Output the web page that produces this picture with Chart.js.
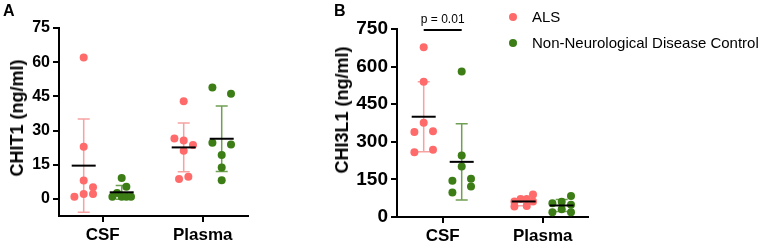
<!DOCTYPE html>
<html><head><meta charset="utf-8">
<script src="https://cdn.jsdelivr.net/npm/chart.js@4.4.1/dist/chart.umd.min.js"></script>
<style>
html,body{margin:0;padding:0;background:#fff}
body{width:765px;height:244px;position:relative;overflow:hidden;font-family:"Liberation Sans",Arial,sans-serif;color:#000}
canvas{position:absolute;top:0}
.panel{position:absolute;font-weight:bold;font-size:16px;line-height:18px}
.leg{position:absolute;font-size:15px;line-height:17px;white-space:nowrap}
.dot{position:absolute;width:8px;height:8px;border-radius:50%}
.ytitle{position:absolute;font-weight:bold;font-size:18px;line-height:20px;white-space:nowrap;
  transform:translate(-50%,-50%) rotate(-90deg)}
</style></head><body>
<canvas id="ca" width="330" height="244" style="left:0"></canvas>
<canvas id="cb" width="435" height="244" style="left:330px"></canvas>
<div class="panel" style="left:3px;top:2px">A</div>
<div class="panel" style="left:334px;top:2px">B</div>
<div class="ytitle" id="ta" style="left:17px;top:118px"></div>
<div class="ytitle" id="tb" style="left:342px;top:110px"></div>
<div class="dot" style="left:509px;top:13px;background:#ff6b6b"></div>
<div class="leg" id="lg0" style="left:532px;top:8px"></div>
<div class="dot" style="left:509px;top:39px;background:#3c7d16"></div>
<div class="leg" id="lg1" style="left:532px;top:34px"></div>
<script>
// ---------------- data ----------------
const categories = ['CSF', 'Plasma'];
const groupNames = ['ALS', 'Non-Neurological Disease Control'];
const yTitles = ['CHIT1 (ng/ml)', 'CHI3L1 (ng/ml)'];

const chit1AlsCsf     = [62, 22.9, 8.1, 5.1, 1.0, 2.2, 2.1];
const chit1CtrlCsf    = [9.2, 5.3, 2.6, 0.9, 0.9, 0.9, 0.9];
const chit1AlsPlasma  = [42.9, 26.5, 25.6, 23.7, 21.1, 8.7, 9.7];
const chit1CtrlPlasma = [48.9, 46.2, 24.6, 23.9, 19.3, 13.8, 8.2];
const chit1AlsMean  = [14.6, 22.6];
const chit1AlsSd    = [20.5, 10.7];
const chit1CtrlMean = [2.9, 26.4];
const chit1CtrlSd   = [3.0, 14.4];
const chit1Ticks = [0, 15, 30, 45, 60, 75];

const chi3l1AlsCsf     = [677, 540, 376, 339, 342, 258, 268];
const chi3l1CtrlCsf    = [580, 245, 201, 145, 153, 122, 98];
const chi3l1AlsPlasma  = [62, 42, 72, 72, 44, 90, 62];
const chi3l1CtrlPlasma = [55, 19, 61, 31, 84, 49, 19];
const chi3l1AlsMean  = [400, 62];
const chi3l1AlsSd    = [140, 17];
const chi3l1CtrlMean = [220, 46];
const chi3l1CtrlSd   = [152, 24];
const chi3l1Ticks = [0, 150, 300, 450, 600, 750];

const pValueText = 'p = 0.01';

// ---------------- layout (jitter columns, not data) ----------------
const jitter = {
  aAlsCsf:     [0, 0, 0, 1, -1, 0, 1],
  aCtrlCsf:    [0, 0.5, -0.5, -1, 0, 0.5, 1],
  aAlsPlasma:  [0, -1, 0, 1, 0, -0.5, 0.5],
  aCtrlPlasma: [-1, 1, -1, 1, 0, 0, 0],
  bAlsCsf:     [0, 0, 0, -1, 1, -1, 1],
  bCtrlCsf:    [0, 0, 0, -1, 1, 1, -1],
  bAlsPlasma:  [-1, -1, -0.33, 0.33, 0.33, 1, 1],
  bCtrlPlasma: [-1, -1, 0, 0, 1, 1, 1]
};
const GROUP_OFF = 0.19, SLOT = 0.093;
const COL_ALS = '#ff6b6b', COL_ALS_BAR = '#f7a2a2';
const COL_CTRL = '#3c7d16', COL_CTRL_BAR = '#6f9f52';

document.getElementById('lg0').textContent = groupNames[0];
document.getElementById('lg1').textContent = groupNames[1];
document.getElementById('ta').textContent = yTitles[0];
document.getElementById('tb').textContent = yTitles[1];

function pts(vals, slots, catIdx, grpSign) {
  return vals.map((v, i) => ({x: catIdx + 1 + grpSign * GROUP_OFF + slots[i] * SLOT, y: v}));
}

Chart.defaults.color = '#000';
Chart.defaults.font.family = '"Liberation Sans", Arial, sans-serif';

const statsPlugin = {
  id: 'stats',
  beforeDatasetsDraw(chart, args, opts) {
    const {ctx, scales: {x, y}} = chart;
    ctx.save();
    opts.items.forEach(it => {
      const px = x.getPixelForValue(it.x);
      const top = y.getPixelForValue(it.mean + it.sd);
      const bot = y.getPixelForValue(Math.max(it.mean - it.sd, y.min));
      ctx.strokeStyle = it.color; ctx.lineWidth = 1.5;
      ctx.beginPath();
      ctx.moveTo(px, top); ctx.lineTo(px, bot);
      ctx.moveTo(px - 6, top); ctx.lineTo(px + 6, top);
      if (it.mean - it.sd >= y.min) { ctx.moveTo(px - 6, bot); ctx.lineTo(px + 6, bot); }
      ctx.stroke();
    });
    ctx.restore();
  },
  afterDatasetsDraw(chart, args, opts) {
    const {ctx, scales: {x, y}} = chart;
    ctx.save();
    opts.items.forEach(it => {
      const px = x.getPixelForValue(it.x);
      const py = y.getPixelForValue(it.mean);
      ctx.strokeStyle = '#000'; ctx.lineWidth = 2;
      ctx.beginPath(); ctx.moveTo(px - 12, py); ctx.lineTo(px + 12, py); ctx.stroke();
    });
    if (opts.pvalue) {
      const p = opts.pvalue;
      const x1 = x.getPixelForValue(p.x1), x2 = x.getPixelForValue(p.x2);
      const py = y.getPixelForValue(p.y);
      ctx.strokeStyle = '#000'; ctx.lineWidth = 2;
      ctx.beginPath(); ctx.moveTo(x1, py); ctx.lineTo(x2, py); ctx.stroke();
      ctx.fillStyle = '#000';
      ctx.font = '12px "Liberation Sans", Arial, sans-serif';
      ctx.textAlign = 'center'; ctx.textBaseline = 'alphabetic';
      ctx.fillText(p.text, (x1 + x2) / 2, py - 7);
    }
    ctx.restore();
  }
};

function statItems(alsMean, alsSd, ctrlMean, ctrlSd) {
  const out = [];
  categories.forEach((c, i) => {
    out.push({x: i + 1 - GROUP_OFF, mean: alsMean[i], sd: alsSd[i], color: COL_ALS_BAR});
    out.push({x: i + 1 + GROUP_OFF, mean: ctrlMean[i], sd: ctrlSd[i], color: COL_CTRL_BAR});
  });
  return out;
}

function makeChart(id, cfg) {
  return new Chart(document.getElementById(id), {
    type: 'scatter',
    data: {
      datasets: [
        {label: groupNames[0], data: cfg.als, backgroundColor: COL_ALS, borderColor: COL_ALS,
         pointRadius: 4, borderWidth: 0, clip: false},
        {label: groupNames[1], data: cfg.ctrl, backgroundColor: COL_CTRL, borderColor: COL_CTRL,
         pointRadius: 4, borderWidth: 0, clip: false}
      ]
    },
    options: {
      responsive: false, animation: false, events: [],
      layout: {padding: cfg.padding},
      plugins: {legend: {display: false}, tooltip: {enabled: false},
        stats: {items: cfg.stats, pvalue: cfg.pvalue}},
      scales: {
        x: {
          type: 'linear', min: cfg.xmin, max: cfg.xmax,
          afterFit: s => { s.height = cfg.xh; },
          afterBuildTicks: s => { s.ticks = categories.map((c, i) => ({value: i + 1})); },
          ticks: {callback: v => categories[Math.round(v) - 1], font: {size: 17, weight: 'bold'},
                  padding: 3, maxRotation: 0, autoSkip: false},
          grid: {drawOnChartArea: false, drawTicks: true, tickLength: 6, color: '#000', lineWidth: 2},
          border: {display: true, color: '#000', width: 2}
        },
        y: {
          type: 'linear', min: cfg.ymin, max: cfg.ymax,
          afterFit: s => { s.width = cfg.yw; },
          afterBuildTicks: s => { s.ticks = cfg.ticks.map(v => ({value: v})); },
          ticks: {font: {size: cfg.tickSize, weight: 'bold'}, padding: 3, autoSkip: false},
          grid: {drawOnChartArea: false, drawTicks: true, tickLength: 6, color: '#000', lineWidth: 2},
          border: {display: true, color: '#000', width: 2}
        }
      }
    },
    plugins: [statsPlugin]
  });
}

makeChart('ca', {
  als: [...pts(chit1AlsCsf, jitter.aAlsCsf, 0, -1), ...pts(chit1AlsPlasma, jitter.aAlsPlasma, 1, -1)],
  ctrl: [...pts(chit1CtrlCsf, jitter.aCtrlCsf, 0, 1), ...pts(chit1CtrlPlasma, jitter.aCtrlPlasma, 1, 1)],
  stats: statItems(chit1AlsMean, chit1AlsSd, chit1CtrlMean, chit1CtrlSd),
  ticks: chit1Ticks, ymin: -7.5, ymax: 75, xmin: 0.563, xmax: 2.453, tickSize: 16,
  yw: 59, xh: 28, padding: {top: 28, right: 82, left: 0, bottom: 0}
});

makeChart('cb', {
  als: [...pts(chi3l1AlsCsf, jitter.bAlsCsf, 0, -1), ...pts(chi3l1AlsPlasma, jitter.bAlsPlasma, 1, -1)],
  ctrl: [...pts(chi3l1CtrlCsf, jitter.bCtrlCsf, 0, 1), ...pts(chi3l1CtrlPlasma, jitter.bCtrlPlasma, 1, 1)],
  stats: statItems(chi3l1AlsMean, chi3l1AlsSd, chi3l1CtrlMean, chi3l1CtrlSd),
  pvalue: {x1: 1 - GROUP_OFF, x2: 1 + GROUP_OFF, y: 746, text: pValueText},
  ticks: chi3l1Ticks, ymin: 0, ymax: 750, xmin: 0.543, xmax: 2.453, tickSize: 19,
  yw: 67, xh: 27, padding: {top: 29, right: 177, left: 0, bottom: 0}
});
</script>
</body></html>
